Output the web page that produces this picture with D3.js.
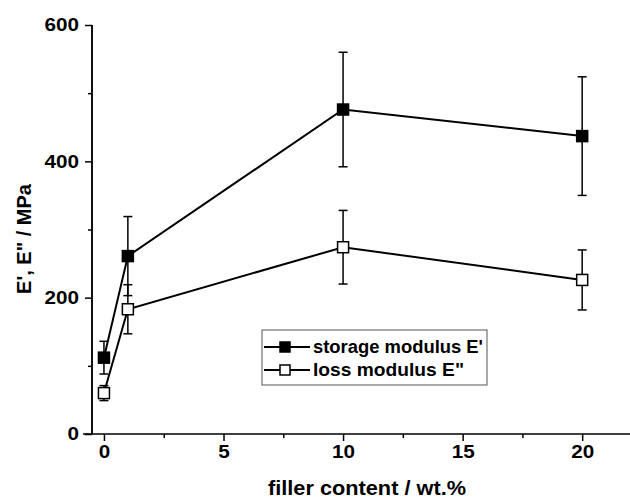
<!DOCTYPE html>
<html>
<head>
  <title>modulus</title>
  <script src="https://d3js.org/d3.v7.min.js"></script>
  <style>
    body { margin: 0; background: #fff; }
    text { font-family: "Liberation Sans", Arial, sans-serif; font-weight: bold; fill: #000; }
  </style>
</head>
<body>
  <svg width="630" height="500" id="mainsvg"></svg>
  <script>
    // filler content (wt.%)
    const filler = [0, 1, 10, 20];
    // storage modulus E' and its error
    const storage = [112, 261, 476, 437];
    const storageErr = [24, 58, 84, 87];
    // loss modulus E'' and its error
    const loss = [60, 183, 274, 226];
    const lossErr = [11, 36, 54, 44];

    const xTicks = [0, 5, 10, 15, 20];
    const xMinor = [2.5, 7.5, 12.5, 17.5];
    const yTicks = [0, 200, 400, 600];
    const yMinor = [100, 300, 500];

    let svg = d3.select('#mainsvg');

    let x = d3.scaleLinear().domain([-0.5, 22]).range([92, 630]);
    let y = d3.scaleLinear().domain([0, 600]).range([434, 25]);

    // x axis
    let gx = svg.append('g').attr('transform', 'translate(0,434)');
    gx.append('line').attr('x1', 83).attr('x2', 630).attr('stroke', 'black').attr('stroke-width', 1.5);
    gx.call(d3.axisBottom(x).tickValues(xTicks).tickSize(7).tickPadding(3).tickFormat(d3.format('d')));
    gx.append('g').call(d3.axisBottom(x).tickValues(xMinor).tickSize(4).tickFormat(''));
    gx.selectAll('.domain').remove();
    gx.selectAll('.tick line').attr('stroke-width', 1.5);
    gx.selectAll('.tick text').attr('font-size', 18).attr('font-family', null).attr('dy', '0.75em')
      .attr('textLength', d => String(d).length * 11.5).attr('lengthAdjust', 'spacingAndGlyphs');

    // y axis
    let gy = svg.append('g').attr('transform', 'translate(92,0)');
    gy.call(d3.axisLeft(y).tickValues(yTicks).tickSize(7).tickPadding(6).tickFormat(d3.format('d')));
    gy.append('g').call(d3.axisLeft(y).tickValues(yMinor).tickSize(4).tickFormat(''));
    gy.selectAll('.domain').attr('d', 'M0,' + y(600) + 'V' + y(0)).attr('stroke-width', 1.5);
    gy.selectAll('.tick line').attr('stroke-width', 1.5);
    gy.selectAll('.tick text').attr('font-size', 18).attr('font-family', null)
      .attr('textLength', d => String(d).length * 11.5).attr('lengthAdjust', 'spacingAndGlyphs');

    // axis titles
    svg.append('text')
      .attr('x', 367).attr('y', 495)
      .attr('text-anchor', 'middle')
      .attr('font-size', 20)
      .attr('textLength', 198).attr('lengthAdjust', 'spacingAndGlyphs')
      .text('filler content / wt.%');

    svg.append('text')
      .attr('transform', 'translate(31,239) rotate(-90)')
      .attr('text-anchor', 'middle')
      .attr('font-size', 20)
      .text('E\', E" / MPa');

    const series = [
      { vals: storage, err: storageErr, fill: 'black' },
      { vals: loss, err: lossErr, fill: 'white' }
    ];

    const line = d3.line().x((d, i) => x(filler[i])).y(d => y(d));

    series.forEach(s => {
      svg.append('path')
        .attr('d', line(s.vals))
        .attr('fill', 'none')
        .attr('stroke', 'black')
        .attr('stroke-width', 2);
    });

    series.forEach(s => {
      let g = svg.append('g').attr('stroke', 'black').attr('stroke-width', 1.5);
      s.vals.forEach((v, i) => {
        let cx = x(filler[i]);
        g.append('line').attr('x1', cx).attr('x2', cx).attr('y1', y(v + s.err[i])).attr('y2', y(v - s.err[i]));
        g.append('line').attr('x1', cx - 4.5).attr('x2', cx + 4.5).attr('y1', y(v + s.err[i])).attr('y2', y(v + s.err[i]));
        g.append('line').attr('x1', cx - 4.5).attr('x2', cx + 4.5).attr('y1', y(v - s.err[i])).attr('y2', y(v - s.err[i]));
      });
    });

    series.forEach(s => {
      svg.selectAll(null).data(s.vals).enter().append('rect')
        .attr('x', (d, i) => x(filler[i]) - 5.5)
        .attr('y', d => y(d) - 5.5)
        .attr('width', 11).attr('height', 11)
        .attr('fill', s.fill)
        .attr('stroke', 'black')
        .attr('stroke-width', 1.5);
    });

    // legend
    let lg = svg.append('g');
    lg.append('rect')
      .attr('x', 262).attr('y', 330).attr('width', 225).attr('height', 55)
      .attr('fill', 'white').attr('stroke', '#555').attr('stroke-width', 1);
    const legendNames = ['storage modulus E\'', 'loss modulus E"'];
    const legendLen = [170, 151];
    series.forEach((s, i) => {
      let ly = 347 + i * 23;
      lg.append('line').attr('x1', 264).attr('x2', 310).attr('y1', ly).attr('y2', ly)
        .attr('stroke', 'black').attr('stroke-width', 2);
      lg.append('rect').attr('x', 280).attr('y', ly - 5).attr('width', 10).attr('height', 10)
        .attr('fill', s.fill).attr('stroke', 'black').attr('stroke-width', 1.5);
      lg.append('text').attr('x', 313).attr('y', ly + 6)
        .attr('font-size', 18)
        .attr('textLength', legendLen[i]).attr('lengthAdjust', 'spacingAndGlyphs')
        .text(legendNames[i]);
    });
  </script>
</body>
</html>
